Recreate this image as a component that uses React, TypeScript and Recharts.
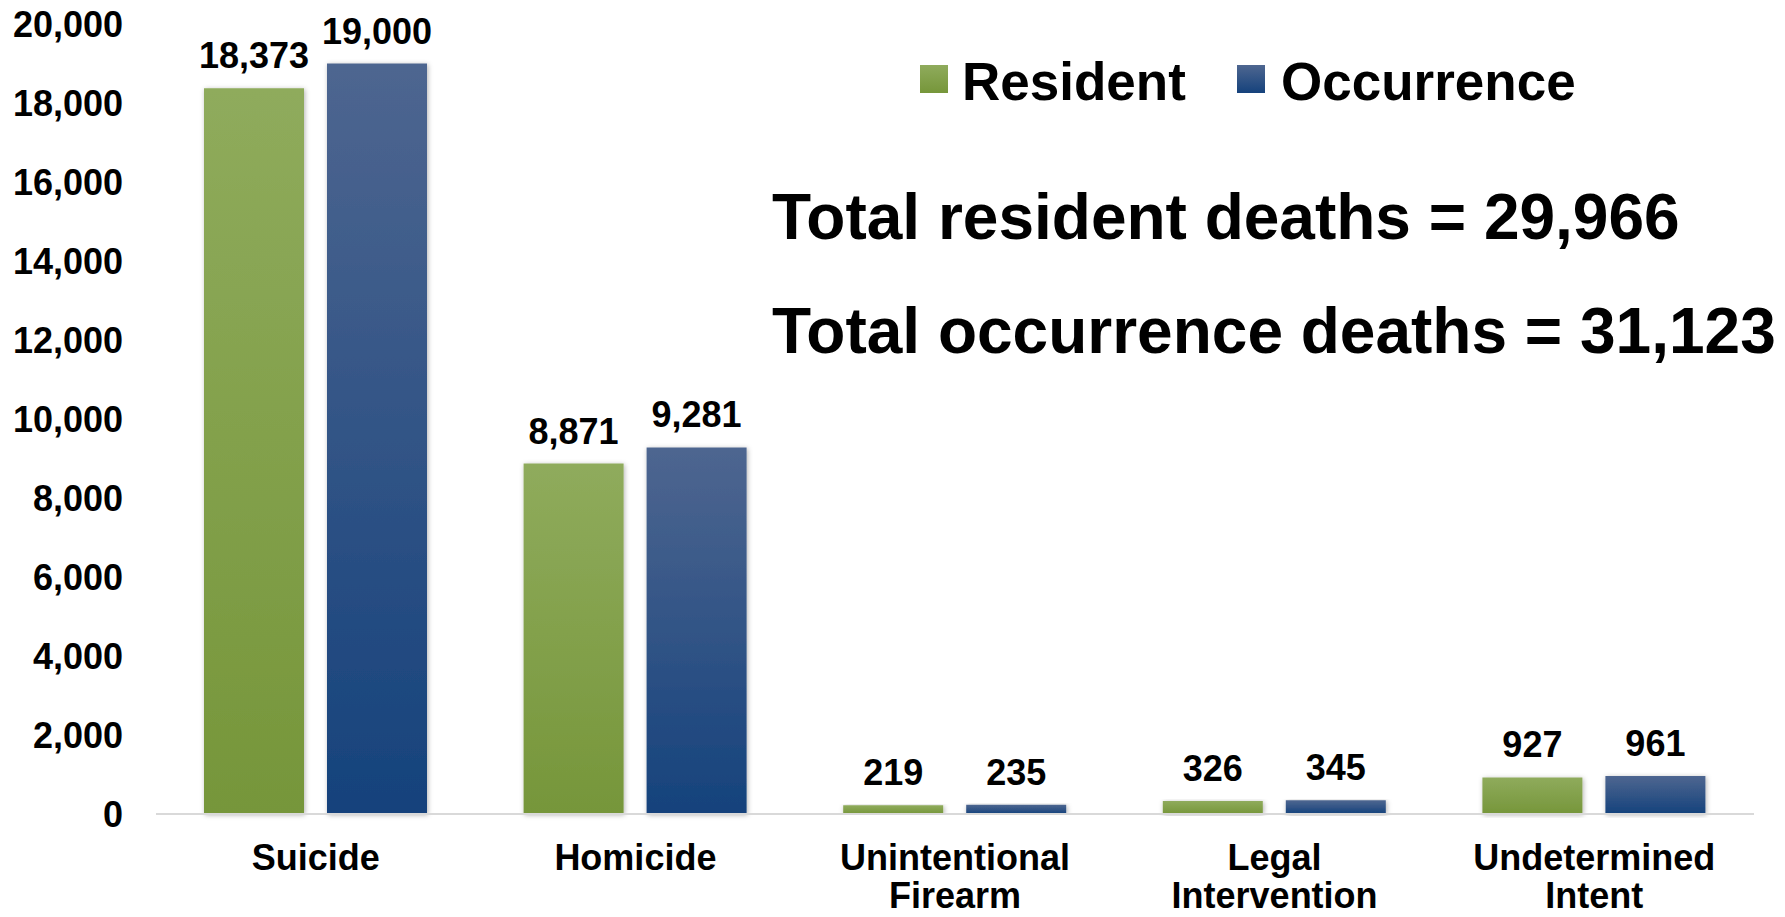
import React from 'react';
import { BarChart, Bar, XAxis, YAxis, LabelList } from 'recharts';

const categories = ['Suicide', 'Homicide', 'Unintentional Firearm', 'Legal Intervention', 'Undetermined Intent'];
const residentValues = [18373, 8871, 219, 326, 927];
const occurrenceValues = [19000, 9281, 235, 345, 961];
const yTicks = [0, 2000, 4000, 6000, 8000, 10000, 12000, 14000, 16000, 18000, 20000];
const seriesNames = ['Resident', 'Occurrence'];
const totalLabels = ['Total resident deaths = 29,966', 'Total occurrence deaths = 31,123'];

const data = categories.map((c, i) => ({
  category: c,
  resident: residentValues[i],
  occurrence: occurrenceValues[i],
}));

const FONT = '"Liberation Sans", Arial, sans-serif';
const fmt = (v: any) => Number(v).toLocaleString('en-US');

const CategoryTick = (props: any) => {
  const { x, y, payload } = props;
  const words = String(payload.value).split(' ');
  return (
    <text x={x} y={y} textAnchor="middle" fill="#000" fontSize={36} fontWeight="bold" fontFamily={FONT}>
      {words.map((w, i) => (
        <tspan key={i} x={x} dy={i === 0 ? 54 : 38}>{w}</tspan>
      ))}
    </text>
  );
};

const LegendContent = () => {
  const items = [
    { name: seriesNames[0], bg: 'linear-gradient(#8fab5c, #76963a)', sq: 0, tx: 42 },
    { name: seriesNames[1], bg: 'linear-gradient(#4e6690, #15427c)', sq: 317, tx: 361 },
  ];
  return (
    <div style={{ position: 'absolute', left: 920, top: 55, width: 700, height: 60, fontFamily: FONT }}>
      {items.map((it) => (
        <React.Fragment key={it.name}>
          <div style={{ position: 'absolute', left: it.sq, top: 10, width: 28, height: 28, background: it.bg }} />
          <div style={{ position: 'absolute', left: it.tx, top: 0, fontSize: 53, lineHeight: '53px', fontWeight: 'bold', color: '#000', whiteSpace: 'nowrap' }}>
            {it.name}
          </div>
        </React.Fragment>
      ))}
    </div>
  );
};

export default function App() {
  return (
    <div style={{ position: 'absolute', left: 0, top: 0, width: 1785, height: 917, background: '#fff' }}>
      <BarChart
        width={1785}
        height={917}
        data={data}
        margin={{ top: 24, right: 31, left: 0, bottom: 0 }}
        barCategoryGap={48}
        barGap={23}
      >
        <defs>
          <linearGradient id="gGreen" x1="0" y1="0" x2="0" y2="1">
            <stop offset="0%" stopColor="#8fab5c" />
            <stop offset="100%" stopColor="#76963a" />
          </linearGradient>
          <linearGradient id="gBlue" x1="0" y1="0" x2="0" y2="1">
            <stop offset="0%" stopColor="#4e6690" />
            <stop offset="100%" stopColor="#15427c" />
          </linearGradient>
          <filter id="shadow" x="-10%" y="-10%" width="120%" height="120%">
            <feDropShadow dx="1" dy="1" stdDeviation="2.5" floodColor="#000" floodOpacity="0.3" />
          </filter>
        </defs>
        <XAxis
          dataKey="category"
          height={103}
          axisLine={{ stroke: '#d9d9d9', strokeWidth: 2 }}
          tickLine={false}
          tickSize={0}
          interval={0}
          tick={<CategoryTick />}
        />
        <YAxis
          width={156}
          domain={[0, 20000]}
          ticks={yTicks}
          axisLine={false}
          tickLine={false}
          tickSize={0}
          tickMargin={33}
          tickFormatter={fmt}
          tick={{ fill: '#000', fontSize: 36, fontWeight: 'bold', fontFamily: FONT }}
        />
        <Bar dataKey="resident" name={seriesNames[0]} fill="url(#gGreen)" filter="url(#shadow)" isAnimationActive={false}>
          <LabelList dataKey="resident" position="top" offset={20} formatter={fmt} fill="#000" fontSize={36} fontWeight="bold" fontFamily={FONT} />
        </Bar>
        <Bar dataKey="occurrence" name={seriesNames[1]} fill="url(#gBlue)" filter="url(#shadow)" isAnimationActive={false}>
          <LabelList dataKey="occurrence" position="top" offset={20} formatter={fmt} fill="#000" fontSize={36} fontWeight="bold" fontFamily={FONT} />
        </Bar>
      </BarChart>
      <LegendContent />
      <svg width={1785} height={917} style={{ position: 'absolute', left: 0, top: 0, pointerEvents: 'none' }}>
        <text x={772} y={239} fontSize={64} fontWeight="bold" fontFamily={FONT} fill="#000">{totalLabels[0]}</text>
        <text x={772} y={353} fontSize={64} fontWeight="bold" fontFamily={FONT} fill="#000">{totalLabels[1]}</text>
      </svg>
    </div>
  );
}
